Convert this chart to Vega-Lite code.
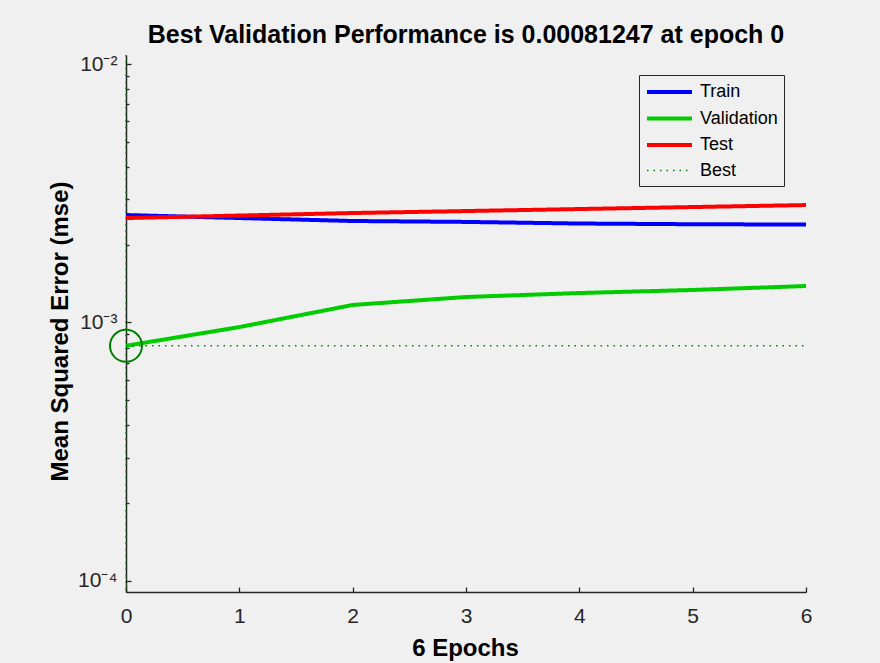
{
  "$schema": "https://vega.github.io/schema/vega-lite/v6.json",
  "width": 680,
  "height": 537,
  "autosize": {"type": "none"},
  "padding": {"left": 126, "top": 55, "right": 74, "bottom": 71},
  "background": "#f0f0f0",
  "config": {
    "font": "Liberation Sans",
    "view": {"stroke": null}
  },
  "title": {
    "text": "Best Validation Performance is 0.00081247 at epoch 0",
    "font": "Liberation Sans",
    "fontSize": 25,
    "fontWeight": "bold",
    "color": "#000000",
    "anchor": "middle",
    "baseline": "alphabetic",
    "offset": 11,
    "dy": 26
  },
  "datasets": {
    "perf": [
      {"epoch": 0, "mse": 0.002605, "series": "Train"},
      {"epoch": 1, "mse": 0.002536, "series": "Train"},
      {"epoch": 2, "mse": 0.00247, "series": "Train"},
      {"epoch": 3, "mse": 0.00245, "series": "Train"},
      {"epoch": 4, "mse": 0.002415, "series": "Train"},
      {"epoch": 5, "mse": 0.0024, "series": "Train"},
      {"epoch": 6, "mse": 0.002393, "series": "Train"},
      {"epoch": 0, "mse": 0.00081247, "series": "Validation"},
      {"epoch": 1, "mse": 0.00096, "series": "Validation"},
      {"epoch": 2, "mse": 0.001169, "series": "Validation"},
      {"epoch": 3, "mse": 0.001255, "series": "Validation"},
      {"epoch": 4, "mse": 0.0013, "series": "Validation"},
      {"epoch": 5, "mse": 0.001336, "series": "Validation"},
      {"epoch": 6, "mse": 0.001384, "series": "Validation"},
      {"epoch": 0, "mse": 0.002536, "series": "Test"},
      {"epoch": 1, "mse": 0.002593, "series": "Test"},
      {"epoch": 2, "mse": 0.002652, "series": "Test"},
      {"epoch": 3, "mse": 0.002699, "series": "Test"},
      {"epoch": 4, "mse": 0.002748, "series": "Test"},
      {"epoch": 5, "mse": 0.002797, "series": "Test"},
      {"epoch": 6, "mse": 0.002847, "series": "Test"},
      {"epoch": 0, "mse": 0.00081247, "series": "Best"},
      {"epoch": 6, "mse": 0.00081247, "series": "Best"}
    ],
    "best": [
      {"epoch": 0, "mse": 0.00081247}
    ]
  },
  "layer": [
    {
      "data": {"name": "best"},
      "mark": {"type": "rule", "color": "#008000", "strokeDash": [1.5, 5], "strokeWidth": 1.3},
      "encoding": {
        "x": {"field": "epoch", "type": "quantitative"}
      }
    },
    {
      "data": {"name": "perf"},
      "encoding": {
        "x": {
          "field": "epoch",
          "type": "quantitative",
          "scale": {"domain": [0, 6], "nice": false, "zero": false},
          "axis": {
            "values": [0, 1, 2, 3, 4, 5, 6],
            "format": "d",
            "grid": false,
            "tickSize": -5,
            "tickWidth": 1.3,
            "tickColor": "#262626",
            "domainColor": "#262626",
            "domainWidth": 1.5,
            "labelFontSize": 21,
            "labelColor": "#262626",
            "labelPadding": 18,
            "labelFlush": false,
            "title": "6 Epochs",
            "titleFontSize": 24,
            "titleFontWeight": "bold",
            "titleColor": "#000000",
            "titleX": 339,
            "titleY": 56,
            "titleAlign": "center",
            "titleBaseline": "middle"
          }
        },
        "y": {
          "field": "mse",
          "type": "quantitative",
          "scale": {"type": "log", "domain": [0.0000906, 0.01084], "nice": false},
          "axis": {
            "values": [0.0001, 0.0002, 0.0003, 0.0004, 0.0005, 0.0006, 0.0007, 0.0008, 0.0009, 0.001, 0.002, 0.003, 0.004, 0.005, 0.006, 0.007, 0.008, 0.009, 0.01],
            "labelExpr": "abs(datum.value - 0.0001) < 0.00002 ? '10⁻⁴' : (abs(datum.value - 0.001) < 0.00005 ? '10⁻³' : (abs(datum.value - 0.01) < 0.0005 ? '10⁻²' : ''))",
            "grid": false,
            "tickSize": {"condition": {"test": "abs(datum.value - 0.0001) < 0.00002 || abs(datum.value - 0.001) < 0.00005 || abs(datum.value - 0.01) < 0.0005", "value": -5}, "value": -3},
            "tickWidth": 1.3,
            "tickColor": "#262626",
            "domainColor": "#262626",
            "domainWidth": 1.5,
            "labelFontSize": 21,
            "labelColor": "#262626",
            "labelPadding": 14,
            "labelOverlap": false,
            "title": "Mean Squared Error  (mse)",
            "titleFontSize": 24,
            "titleFontWeight": "bold",
            "titleColor": "#000000",
            "titleAngle": -90,
            "titleX": -66,
            "titleY": 276,
            "titleAlign": "center",
            "titleBaseline": "middle"
          }
        },
        "color": {
          "field": "series",
          "type": "nominal",
          "scale": {"domain": ["Train", "Validation", "Test", "Best"], "range": ["#0000ff", "#00cc00", "#ff0000", "#008000"]},
          "legend": {
            "title": null,
            "orient": "none",
            "legendX": 513,
            "legendY": 20,
            "padding": 6,
            "rowPadding": 6.5,
            "strokeColor": "#262626",
            "fillColor": "#f0f0f0",
            "cornerRadius": 0,
            "labelFontSize": 18,
            "labelColor": "#000000",
            "labelOffset": 33,
            "symbolType": "M-1,0H4",
            "symbolSize": 324
          }
        },
        "strokeDash": {
          "field": "series",
          "type": "nominal",
          "scale": {"domain": ["Train", "Validation", "Test", "Best"], "range": [[1, 0], [1, 0], [1, 0], [1.5, 5]]},
          "legend": {"title": null}
        },
        "strokeWidth": {
          "field": "series",
          "type": "nominal",
          "scale": {"type": "ordinal", "domain": ["Train", "Validation", "Test", "Best"], "range": [4, 4, 4, 1.5]},
          "legend": {"title": null}
        }
      },
      "layer": [
        {
          "transform": [{"filter": "datum.series != 'Test'"}],
          "mark": {"type": "line"}
        },
        {
          "transform": [{"filter": "datum.series == 'Test'"}],
          "mark": {"type": "line"}
        }
      ]
    },
    {
      "data": {"name": "best"},
      "mark": {"type": "point", "shape": "circle", "filled": false, "color": "#008000", "strokeWidth": 2, "size": 1024, "opacity": 1},
      "encoding": {
        "x": {"field": "epoch", "type": "quantitative"},
        "y": {"field": "mse", "type": "quantitative"}
      }
    }
  ]
}
